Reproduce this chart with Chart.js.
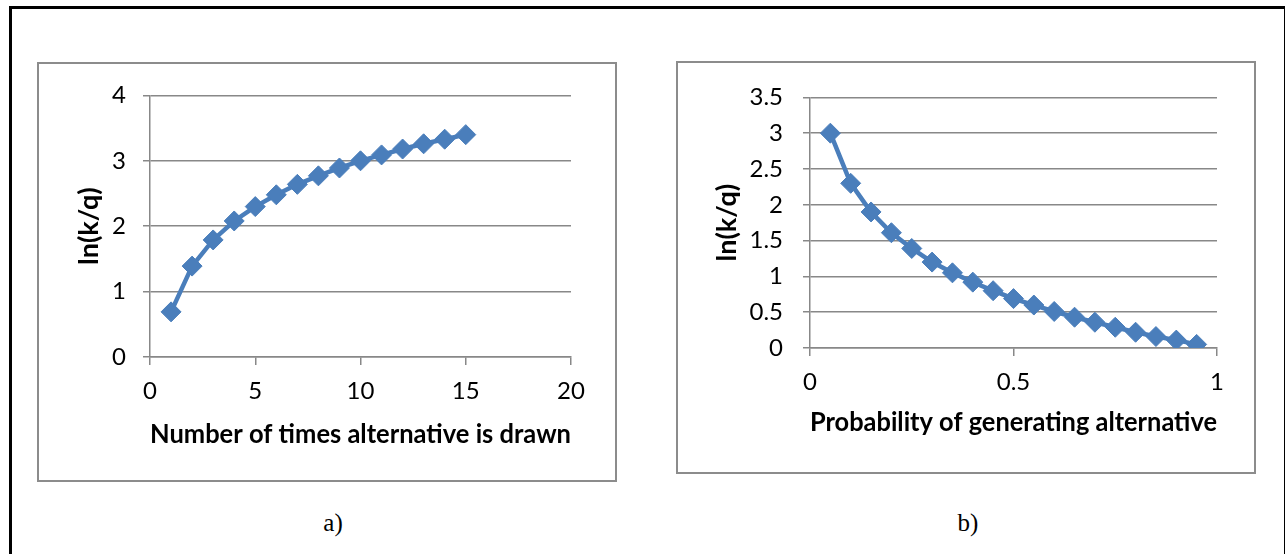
<!DOCTYPE html>
<html>
<head>
<meta charset="utf-8">
<script src="https://cdn.jsdelivr.net/npm/chart.js@4.4.0/dist/chart.umd.min.js"></script>
<style>
  body { margin: 0; background: #fff; width: 1285px; height: 554px; overflow: hidden; position: relative; }
  #frame { position: absolute; left: 9px; top: 6px; width: 1272px; height: 560px;
           border: 3px solid #000; border-bottom: none; }
  .panel { position: absolute; border: 2px solid #8c8c8c; box-sizing: border-box; }
  .panel canvas { position: absolute; left: 0; top: 0; }
  .cap { position: absolute; font-family: "Liberation Serif", serif; font-size: 25px; color: #000;
         transform: translate(-50%, -50%); }
</style>
</head>
<body>
<div id="frame"></div>
<div class="panel" style="left:37px; top:62px; width:580px; height:420px;">
  <canvas id="chartA" width="576" height="416"></canvas>
</div>
<div class="panel" style="left:676px; top:61px; width:580px; height:413px;">
  <canvas id="chartB" width="576" height="409"></canvas>
</div>
<div class="cap" style="left:333px; top:523px;">a)</div>
<div class="cap" style="left:968px; top:523px;">b)</div>

<script>
// a) число витягувань альтернативи
const drawsX = [1, 2, 3, 4, 5, 6, 7, 8, 9, 10, 11, 12, 13, 14, 15];
const drawsY = [0.69, 1.39, 1.79, 2.08, 2.30, 2.48, 2.64, 2.77, 2.89, 3.00, 3.09, 3.18, 3.26, 3.33, 3.40];

// b) ймовірність генерування альтернативи
const probX = [0.05, 0.1, 0.15, 0.2, 0.25, 0.3, 0.35, 0.4, 0.45, 0.5, 0.55, 0.6, 0.65, 0.7, 0.75, 0.8, 0.85, 0.9, 0.95];
const probY = [3.0, 2.30, 1.90, 1.61, 1.39, 1.20, 1.05, 0.92, 0.80, 0.69, 0.60, 0.51, 0.43, 0.36, 0.29, 0.22, 0.16, 0.11, 0.05];

const yTitle = 'ln(k/q)';
const xTitleA = 'Number of times alternative is drawn';
const xTitleB = 'Probability of generating alternative';

const blue = '#4a7ebb';
const grey = '#888888';
const fontFamily = 'Lato, "Open Sans", sans-serif';

// підпис поділки без зайвих нулів: 3 замість 3.0
const fmt = (v) => String(Number(v.toFixed(2)));

function drawChart(id, xs, ys, xScale, yScale, xTitle, box) {
  const ctx = document.getElementById(id).getContext('2d');
  new Chart(ctx, {
    type: 'line',
    data: {
      datasets: [
        {
          data: xs.map((x, i) => ({ x: x, y: ys[i] })),
          borderColor: blue,
          backgroundColor: blue,
          borderWidth: 4.5,
          pointStyle: 'rectRot',
          pointRadius: 10,
          pointBorderWidth: 1,
          pointBackgroundColor: blue,
          pointBorderColor: blue,
          tension: 0,
        },
      ],
    },
    options: {
      responsive: false,
      animation: false,
      devicePixelRatio: 1,
      layout: { padding: { left: 0, top: box.top, right: box.right, bottom: 0 } },
      plugins: { legend: { display: false }, tooltip: { enabled: false } },
      scales: {
        x: {
          type: 'linear',
          min: xScale.min,
          max: xScale.max,
          afterFit: (s) => { s.height = box.xh; },
          ticks: { stepSize: xScale.step, color: '#000', padding: 12, callback: fmt, font: { family: fontFamily, size: 24 } },
          grid: { drawOnChartArea: false, color: grey, tickLength: 8, lineWidth: 1.5 },
          border: { color: grey, width: 1.5 },
          title: {
            display: true,
            text: xTitle,
            color: '#000',
            font: { family: fontFamily, size: 27, weight: 'bold' },
            padding: { top: 0, bottom: box.xtPad },
          },
        },
        y: {
          min: yScale.min,
          max: yScale.max,
          afterFit: (s) => { s.width = box.yw; },
          ticks: { stepSize: yScale.step, color: '#000', padding: box.ytick, callback: fmt, font: { family: fontFamily, size: 24 } },
          grid: { color: grey, tickLength: 7, lineWidth: 1.5 },
          border: { color: grey, width: 1.5 },
          title: {
            display: true,
            text: yTitle,
            color: '#000',
            font: { family: fontFamily, size: 27, weight: 'bold' },
            padding: { top: box.ytPad, bottom: 0 },
          },
        },
      },
    },
  });
}

drawChart('chartA', drawsX, drawsY, { min: 0, max: 20, step: 5 }, { min: 0, max: 4, step: 1 }, xTitleA,
  { top: 29, right: 44, xh: 123, yw: 111, xtPad: 30, ytPad: 34, ytick: 17 });
drawChart('chartB', probX, probY, { min: 0, max: 1, step: 0.5 }, { min: 0, max: 3.5, step: 0.5 }, xTitleB,
  { top: 31, right: 37, xh: 124, yw: 132, xtPad: 34, ytPad: 33, ytick: 20 });
</script>
</body>
</html>
